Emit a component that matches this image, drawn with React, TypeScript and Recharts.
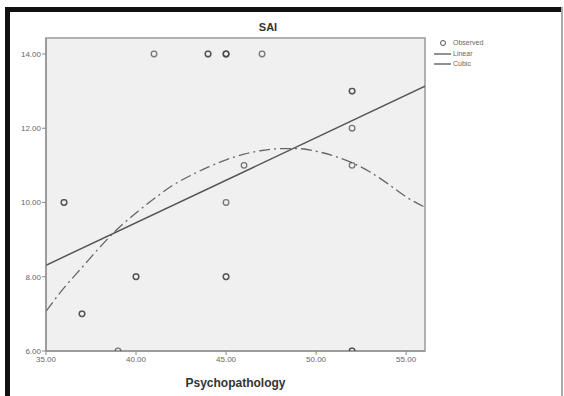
import React from "react"
import {
  ComposedChart,
  Line,
  Scatter,
  XAxis,
  YAxis,
  Label,
  ReferenceArea,
} from "recharts"

// observed cases (duplicates kept where the marker looks darker)
const psychopathology = [36, 36, 37, 37, 39, 40, 40, 41, 44, 44, 45, 45, 45, 45, 45, 45, 46, 47, 52, 52, 52, 52, 52, 52]
const sai = [10, 10, 7, 7, 6, 8, 8, 14, 14, 14, 14, 14, 14, 10, 8, 8, 11, 14, 13, 13, 12, 11, 6, 6]

// fitted curves
const linearX = [35, 56.05]
const linearY = [8.31, 13.13]
const cubicX = [35, 36, 37, 38, 39, 40, 41, 42, 43, 44, 45, 46, 47, 48, 49, 50, 51, 52, 53, 54, 55, 56.05]
const cubicY = [7.07, 7.7, 8.25, 8.8, 9.3, 9.72, 10.1, 10.45, 10.72, 10.95, 11.15, 11.3, 11.4, 11.45, 11.45, 11.38, 11.25, 11.07, 10.82, 10.5, 10.15, 9.87]

const xTicks = [35, 40, 45, 50, 55]
const yTicks = [6, 8, 10, 12, 14]

const observed = psychopathology.map((x, i) => ({ x, y: sai[i] }))
const linear = linearX.map((x, i) => ({ x, y: linearY[i] }))
const cubic = cubicX.map((x, i) => ({ x, y: cubicY[i] }))

const font = "'Liberation Sans', Arial, sans-serif"
const tickStyle = { fontSize: 8, fill: "#666", fontFamily: font }

const Ring = (props: any) => {
  const { cx, cy } = props
  if (cx == null || cy == null) return null
  return <circle cx={cx} cy={cy} r={2.8} fill="none" stroke="#444" strokeOpacity={0.7} strokeWidth={1.3} />
}

export default function App() {
  return (
    <div style={{ position: "absolute", left: 0, top: 0, width: 564, height: 396, background: "#fff", fontFamily: font }}>
      {/* frame */}
      <div style={{ position: "absolute", left: 5, top: 7, width: 5, height: 389, background: "#111" }} />
      <div style={{ position: "absolute", left: 5, top: 7, width: 557, height: 5, background: "#111" }} />
      <div style={{ position: "absolute", left: 561, top: 7, width: 1.5, height: 389, background: "#aaa" }} />

      <div style={{ position: "absolute", left: 240, top: 21, width: 56, textAlign: "center", fontSize: 11, fontWeight: "bold", color: "#333" }}>
        SAI
      </div>

      <div style={{ position: "absolute", left: 0, top: 0 }}>
        <ComposedChart width={564} height={396} margin={{ top: 38, right: 139, bottom: 0, left: 0 }}>
          <XAxis
            type="number"
            dataKey="x"
            domain={[35, 56.05]}
            ticks={xTicks}
            tickFormatter={(v: number) => v.toFixed(2)}
            tick={tickStyle}
            tickSize={4}
            tickMargin={1}
            stroke="#888"
            height={45}
            allowDataOverflow
          >
            <Label value="Psychopathology" position="insideBottom" offset={9} style={{ fontSize: 12, fontWeight: "bold", fill: "#333", fontFamily: font }} />
          </XAxis>
          <YAxis
            type="number"
            dataKey="y"
            domain={[6, 14.43]}
            ticks={yTicks}
            tickFormatter={(v: number) => v.toFixed(2)}
            tick={tickStyle}
            tickSize={4}
            tickMargin={1}
            stroke="#888"
            width={46}
            allowDataOverflow
          />
          <ReferenceArea x1={35} x2={56.05} y1={6} y2={14.43} fill="#f0f0f0" fillOpacity={1} stroke="#999" strokeWidth={1.5} />
          <Line data={linear} dataKey="y" type="linear" stroke="#555" strokeWidth={1.5} dot={false} isAnimationActive={false} />
          <Line data={cubic} dataKey="y" type="monotone" stroke="#666" strokeWidth={1.3} strokeDasharray="11 4 2 4" dot={false} isAnimationActive={false} />
          <Scatter data={observed} dataKey="y" shape={Ring} isAnimationActive={false} />
        </ComposedChart>
      </div>

      {/* legend */}
      <div style={{ position: "absolute", left: 433, top: 38, fontSize: 7, color: "#666", lineHeight: "10.5px" }}>
        <div style={{ display: "flex", alignItems: "center" }}>
          <svg width={18} height={10}><circle cx={10} cy={5} r={2.5} fill="none" stroke="#555" strokeWidth={1} /></svg>
          <span style={{ marginLeft: 2 }}>Observed</span>
        </div>
        <div style={{ display: "flex", alignItems: "center" }}>
          <svg width={18} height={10}><line x1={1} x2={18} y1={5} y2={5} stroke="#555" strokeWidth={1.3} /></svg>
          <span style={{ marginLeft: 2 }}>Linear</span>
        </div>
        <div style={{ display: "flex", alignItems: "center" }}>
          <svg width={18} height={10}><line x1={1} x2={18} y1={5} y2={5} stroke="#555" strokeWidth={1.3} /></svg>
          <span style={{ marginLeft: 2 }}>Cubic</span>
        </div>
      </div>
    </div>
  )
}
